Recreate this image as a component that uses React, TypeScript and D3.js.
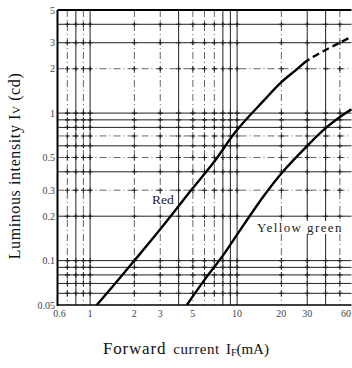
import * as d3 from "d3";

const W = 352;
const H = 368;

// grid + tick values
const xGridValues = [0.7, 0.8, 0.9, 1, 2, 3, 4, 5, 6, 7, 8, 9, 10, 20, 30, 40, 50];
const xGridDashed = [0.7, 0.9, 2, 3, 5, 6, 7, 20, 50];
const yGridValues = [0.06, 0.07, 0.08, 0.09, 0.1, 0.2, 0.3, 0.4, 0.5, 0.6, 0.7, 0.8, 0.9, 1, 2, 3, 4];
const yGridDashed = [0.3, 0.5, 0.7, 2];
const xTickValues = [0.6, 1, 2, 3, 5, 10, 20, 30, 60];
const xTickText = ["0.6", "1", "2", "3", "5", "10", "20", "30", "60"];
const yTickValues = [0.05, 0.1, 0.2, 0.3, 0.5, 1, 2, 3, 5];
const yTickText = ["0.05", "0.1", "0.2", "0.3", "0.5", "1", "2", "3", "5"];

// curves (IF mA -> Iv cd)
const redCurrent = [1.11, 1.5, 2, 3, 5, 7, 10, 15, 20, 25, 30];
const redIntensity = [0.05, 0.071, 0.1, 0.163, 0.31, 0.47, 0.77, 1.2, 1.62, 1.95, 2.27];
const redDashCurrent = [40, 50, 60];
const redDashIntensity = [2.68, 3.0, 3.3];
const ygCurrent = [4.55, 6, 8, 10, 15, 20, 30, 40, 50, 60];
const ygIntensity = [0.05, 0.074, 0.108, 0.15, 0.27, 0.39, 0.6, 0.79, 0.94, 1.06];

const FONT = "'Liberation Serif', 'DejaVu Serif', serif";

export default function App() {
    const x = d3.scaleLog().domain([0.6, 60]).range([57.5, 351.5]);
    const y = d3.scaleLog().domain([0.05, 5]).range([305, 10]);

    const line = d3
        .line<[number, number]>()
        .x((d) => x(d[0]))
        .y((d) => y(d[1]))
        .curve(d3.curveCatmullRom.alpha(0.5));

    const red = redCurrent
        .concat(redDashCurrent)
        .map((c, i) => [c, redIntensity.concat(redDashIntensity)[i]] as [number, number]);
    const yg = ygCurrent.map((c, i) => [c, ygIntensity[i]] as [number, number]);

    const [x0, x1] = x.range();
    const [y0, y1] = y.range();
    const split = x(redCurrent[redCurrent.length - 1]);

    return (
        <svg
            width={W}
            height={H}
            style={{ position: "absolute", left: 0, top: 0, background: "#fff" }}
            fontFamily={FONT}
        >
            <defs>
                <clipPath id="solidPart">
                    <rect x={0} y={0} width={split} height={H} />
                </clipPath>
                <clipPath id="dashPart">
                    <rect x={split} y={0} width={W - split} height={H} />
                </clipPath>
            </defs>
            {/* vertical grid */}
            {xGridValues.map((v) => (
                <line
                    key={"vx" + v}
                    x1={x(v)}
                    x2={x(v)}
                    y1={y1}
                    y2={y0}
                    stroke={xGridDashed.includes(v) ? "#666" : "#222"}
                    strokeWidth={1}
                    strokeDasharray={xGridDashed.includes(v) ? "7,3,1,3" : undefined}
                />
            ))}
            {/* horizontal grid */}
            {yGridValues.map((v) => (
                <line
                    key={"hy" + v}
                    x1={x0}
                    x2={x1}
                    y1={y(v)}
                    y2={y(v)}
                    stroke={yGridDashed.includes(v) ? "#666" : "#222"}
                    strokeWidth={1}
                    strokeDasharray={yGridDashed.includes(v) ? "7,3,1,3" : undefined}
                />
            ))}
            {/* little crosses where grid lines meet */}
            {xGridValues.map((vx) =>
                yGridValues.map((vy) => (
                    <path
                        key={"c" + vx + "-" + vy}
                        d={`M${x(vx) - 2.5},${y(vy)}h5M${x(vx)},${y(vy) - 2.5}v5`}
                        stroke="#222"
                        strokeWidth={1.1}
                    />
                ))
            )}

            {/* frame */}
            <line x1={x0} x2={x0} y1={y1} y2={y0 + 1} stroke="#000" strokeWidth={2} />
            <line x1={x0} x2={x1} y1={y1} y2={y1} stroke="#000" strokeWidth={2} />
            <line x1={x0} x2={x1} y1={y0} y2={y0} stroke="#000" strokeWidth={1.6} />

            {/* curves */}
            <path d={line(red) ?? ""} fill="none" stroke="#000" strokeWidth={2.4} clipPath="url(#solidPart)" />
            <path
                d={line(red) ?? ""}
                fill="none"
                stroke="#000"
                strokeWidth={2.4}
                strokeDasharray="7,4"
                clipPath="url(#dashPart)"
            />
            <path d={line(yg) ?? ""} fill="none" stroke="#000" strokeWidth={2.4} />

            {/* curve labels */}
            <rect x={151} y={194} width={22} height={12} fill="#fff" />
            <text x={152} y={204} fontSize={13.5} fill="#222">
                Red
            </text>
            <rect x={256} y={221} width={88} height={13} fill="#fff" />
            <text x={257} y={232} fontSize={13} fill="#222" letterSpacing={1.4}>
                Yellow green
            </text>

            {/* tick labels */}
            {yTickValues.map((v, i) => (
                <text
                    key={"yt" + v}
                    x={55}
                    y={y(v)}
                    dy="0.35em"
                    textAnchor="end"
                    fontSize={10}
                    fill="#444"
                >
                    {yTickText[i]}
                </text>
            ))}
            {xTickValues.map((v, i) => (
                <text
                    key={"xt" + v}
                    x={v === 0.6 ? x(v) + 2 : v === 60 ? W - 1 : x(v)}
                    y={317}
                    textAnchor={v === 60 ? "end" : "middle"}
                    fontSize={10}
                    fill="#444"
                >
                    {xTickText[i]}
                </text>
            ))}

            {/* axis titles */}
            <text
                transform="translate(20,166) rotate(-90)"
                textAnchor="middle"
                fontSize={16}
                letterSpacing={0.6}
                fill="#111"
            >
                Luminous intensity I<tspan fontSize={11}>V</tspan> (cd)
            </text>
            <text x={103} y={354} fontSize={17} fill="#111">
                <tspan letterSpacing={0.8}>Forward</tspan>
                <tspan dx={7} fontSize={15} letterSpacing={0.6}>current</tspan>
                <tspan dx={6} fontSize={15}>I</tspan>
                <tspan fontSize={10} dy={2}>F</tspan>
                <tspan fontSize={15} dy={-2}>(mA)</tspan>
            </text>
        </svg>
    );
}
